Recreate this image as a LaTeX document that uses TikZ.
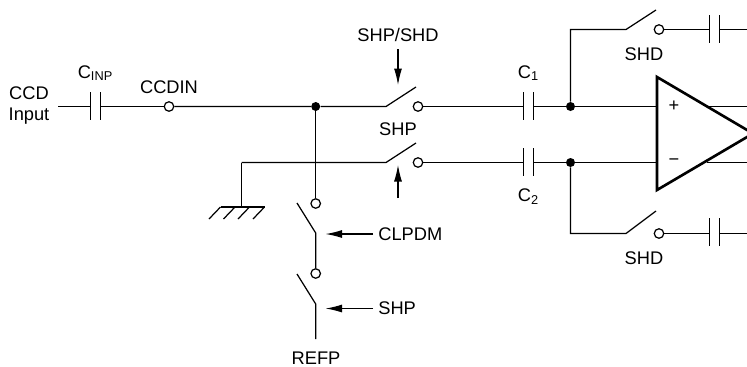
\documentclass[tikz,border=0pt]{standalone}
\usepackage{fontspec}
\setmainfont{Liberation Sans}
\usetikzlibrary{arrows.meta}
\tikzset{
  wire/.style={line width=.7pt},
  term/.style={circle, draw, line width=.7pt, fill=white, inner sep=0pt, minimum size=.19cm},
  junction/.style={circle, fill=black, inner sep=0pt, minimum size=.18cm},
  lab/.style={inner sep=0pt, font=\fontsize{10.4}{12.5}\selectfont},
  ctl/.style={wire, -{Latex[length=.33cm,width=.16cm]}}
}
\begin{document}
\begin{tikzpicture}[x=.02cm, y=-.02cm]
  \clip (0,0) rectangle (747,366);
  % input side
  \coordinate (in) at (58,106.5);
  \coordinate (cinpa) at (90.5,106.5);
  \coordinate (cinpb) at (100.5,106.5);
  \node (ccdin) at (169,106.5) [term] {};
  \node (top) at (315.7,106.5) [junction] {};
  \draw [wire] (in) -- (cinpa);
  \draw [wire] (cinpa |- 0,92) -- (cinpa |- 0,120);
  \draw [wire] (cinpb |- 0,92) -- (cinpb |- 0,120);
  \draw [wire] (cinpb) -- (ccdin);
  \node (ccdlab) at (29,105.5) [lab, align=center] {CCD\\Input};
  \node (cinplab) at (95.5,73) [lab] {C\textsubscript{INP}};
  \node (ccdinlab) at (169,87) [lab] {CCDIN};
  % upper and lower series switches
  \coordinate (swa) at (386,106.5);
  \coordinate (swatip) at (416,87);
  \node (swaout) at (418,106.5) [term] {};
  \coordinate (gnd) at (241.5,162.5);
  \coordinate (swb) at (386,162.5);
  \coordinate (swbtip) at (416,143);
  \node (swbout) at (418,162.5) [term] {};
  \draw [wire] (ccdin) -- (top) -- (swa) -- (swatip);
  \draw [wire] (gnd) -- (swb) -- (swbtip);
  \node (shpshd) at (398,35) [lab] {SHP/SHD};
  \node (shpa) at (398,129) [lab] {SHP};
  \coordinate (shpshdtail) at (398,49);
  \coordinate (shpshdtip) at (398,85);
  \coordinate (shpbtail) at (398,198);
  \coordinate (shpbtip) at (398,165);
  \draw [ctl] (shpshdtail) -- (shpshdtip);
  \draw [ctl] (shpbtail) -- (shpbtip);
  % ground
  \coordinate (gndbar) at (241.5,207);
  \draw [wire] (gnd) -- (gndbar);
  \draw [wire] (220.5,207) -- (264.5,207);
  \foreach \hx in {220.5,235,249.5,264.5}
    \draw [wire] (\hx,207) -- ++(-11.5,12);
  % clamp switches
  \node (clpin) at (315.7,203.5) [term] {};
  \coordinate (clpa) at (315.7,233);
  \coordinate (clpatip) at (297,203);
  \node (clpout) at (315.7,273.5) [term] {};
  \coordinate (clpb) at (315.7,304);
  \coordinate (clpbtip) at (297,274);
  \coordinate (refp) at (315.7,339);
  \draw [wire] (top) -- (clpin);
  \draw [wire] (clpatip) -- (clpa) -- (clpout);
  \draw [wire] (clpbtip) -- (clpb) -- (refp);
  \node (clpdm) at (378,234) [lab, anchor=west] {CLPDM};
  \node (shpc) at (378,308.5) [lab, anchor=west] {SHP};
  \node (refplab) at (316,358.5) [lab] {REFP};
  \coordinate (clptip) at (325.5,234);
  \coordinate (shptip) at (325.5,308.5);
  \draw [ctl] (clpdm.west) ++(-5,0) -- (clptip);
  \draw [ctl] (shpc.west) ++(-5,0) -- (shptip);
  % C1 and C2
  \coordinate (caa) at (523.5,106.5);
  \coordinate (cab) at (533.5,106.5);
  \coordinate (cba) at (523.5,162.5);
  \coordinate (cbb) at (533.5,162.5);
  \node (nodep) at (570.5,106.5) [junction] {};
  \node (noden) at (570.5,162.5) [junction] {};
  \coordinate (inp) at (657,106.5);
  \coordinate (inn) at (657,162.5);
  \draw [wire] (swaout) -- (caa);
  \draw [wire] (swbout) -- (cba);
  \draw [wire] (caa |- 0,92) -- (caa |- 0,120);
  \draw [wire] (cab |- 0,92) -- (cab |- 0,120);
  \draw [wire] (cba |- 0,148) -- (cba |- 0,176);
  \draw [wire] (cbb |- 0,148) -- (cbb |- 0,176);
  \draw [wire] (cab) -- (nodep) -- (inp);
  \draw [wire] (cbb) -- (noden) -- (inn);
  \node (c1lab) at (528.5,73) [lab] {C\textsubscript{1}};
  \node (c2lab) at (528.5,197) [lab] {C\textsubscript{2}};
  % feedback switches
  \coordinate (fba) at (570.5,29.5);
  \coordinate (fbasw) at (626,29.5);
  \coordinate (fbatip) at (656,10);
  \node (fbaout) at (659,29.5) [term] {};
  \coordinate (fbb) at (570.5,233.5);
  \coordinate (fbbsw) at (626,233.5);
  \coordinate (fbbtip) at (656,211);
  \node (fbbout) at (659,233.5) [term] {};
  \draw [wire] (nodep) -- (fba) -- (fbasw) -- (fbatip);
  \draw [wire] (noden) -- (fbb) -- (fbbsw) -- (fbbtip);
  \draw [wire] (fbaout) -- (709,29.5);
  \draw [wire] (fbbout) -- (709,233.5);
  \draw [wire] (709.5,15) -- (709.5,43);
  \draw [wire] (719.5,15) -- (719.5,43);
  \draw [wire] (709.5,218) -- (709.5,246);
  \draw [wire] (719.5,218) -- (719.5,246);
  \draw [wire] (719,29.5) -- (747,29.5);
  \draw [wire] (719,233.5) -- (747,233.5);
  \node (shda) at (644,54) [lab] {SHD};
  \node (shdb) at (644,258) [lab] {SHD};
  % amplifier
  \draw [line width=1.5pt, line join=miter] (657,77) -- (753,133.5) -- (657,190) -- cycle;
  \draw [wire] (707,106.5) -- (747,106.5);
  \draw [wire] (707,162.5) -- (747,162.5);
  \node (plus) at (674,106) [lab] {+};
  \node (minus) at (674,162.5) [lab] {\textminus};
\end{tikzpicture}
\end{document}
